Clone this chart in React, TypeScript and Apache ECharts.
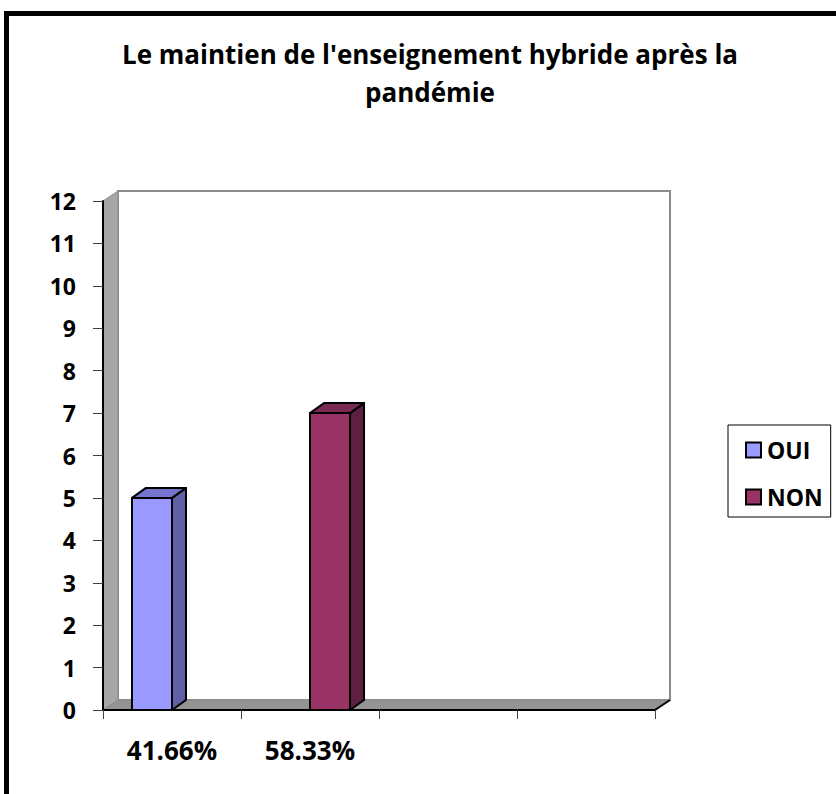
import React, { useEffect, useRef } from 'react';
import * as echarts from 'echarts';

const titleText = "Le maintien de l'enseignement hybride après la\npandémie";
const categories = ['41.66%', '58.33%', '', ''];
const seriesNames = ['OUI', 'NON'];
const ouiValues: (number | null)[] = [5, null, null, null];
const nonValues: (number | null)[] = [null, 7, null, null];
const yMin = 0;
const yMax = 12;
const yInterval = 1;

const FONT = '"Open Sans", "Noto Sans", sans-serif';
const DX = 14;
const DY = -10;

const colors = {
  oui: { front: '#9999FF', side: '#6060A8', top: '#7474CC' },
  non: { front: '#993366', side: '#5F1F40', top: '#7A2952' },
};

function toData(vals: (number | null)[]) {
  return vals
    .map((v, i) => (v == null ? null : [i, v]))
    .filter((d) => d != null) as number[][];
}

function makeBarRender(seriesIdx: number, c: { front: string; side: string; top: string }) {
  return (params: any, api: any) => {
    const v = api.value(1);
    if (v == null || isNaN(v)) return null;
    const cat = api.value(0);
    const base = api.coord([cat, 0]);
    const tp = api.coord([cat, v]);
    const band = api.size([1, 0])[0];
    const w = band * 0.29;
    const x0 = seriesIdx === 0 ? base[0] - w : base[0];
    const x1 = x0 + w;
    const y0 = tp[1];
    const y1 = base[1];
    const stroke = { stroke: '#000', lineWidth: 2, lineJoin: 'round' };
    return {
      type: 'group',
      children: [
        {
          type: 'polygon',
          shape: { points: [[x1, y1], [x1 + DX, y1 + DY], [x1 + DX, y0 + DY], [x1, y0]] },
          style: { fill: c.side, ...stroke },
        },
        {
          type: 'polygon',
          shape: { points: [[x0, y0], [x0 + DX, y0 + DY], [x1 + DX, y0 + DY], [x1, y0]] },
          style: { fill: c.top, ...stroke },
        },
        {
          type: 'rect',
          shape: { x: x0, y: y0, width: w, height: y1 - y0 },
          style: { fill: c.front, ...stroke },
        },
      ],
    };
  };
}

function wallRender(params: any, api: any) {
  const cs = params.coordSys;
  const gx = cs.x;
  const gy = cs.y;
  const gw = cs.width;
  const gh = cs.height;
  const wx = 15;
  const wy = -10;
  return {
    type: 'group',
    children: [
      {
        type: 'rect',
        shape: { x: gx + wx, y: gy + wy, width: gw, height: gh },
        style: { fill: '#FFFFFF', stroke: '#8C8C8C', lineWidth: 2 },
      },
      {
        type: 'polygon',
        shape: { points: [[gx, gy], [gx + wx, gy + wy], [gx + wx, gy + gh + wy], [gx, gy + gh]] },
        style: { fill: '#A6A6A6', stroke: '#8C8C8C', lineWidth: 1 },
      },
      {
        type: 'polygon',
        shape: {
          points: [[gx, gy + gh], [gx + wx, gy + gh + wy], [gx + gw + wx, gy + gh + wy], [gx + gw, gy + gh]],
        },
        style: { fill: '#939393', stroke: '#8C8C8C', lineWidth: 1 },
      },
      {
        type: 'line',
        shape: { x1: gx + gw, y1: gy + gh, x2: gx + gw + wx, y2: gy + gh + wy },
        style: { stroke: '#000', lineWidth: 2 },
      },
    ],
  };
}

export default function App() {
  const ref = useRef<HTMLDivElement>(null);
  useEffect(() => {
    if (!ref.current) return;
    const chart = echarts.init(ref.current, undefined, { renderer: 'svg' });
    chart.setOption({
      animation: false,
      backgroundColor: '#FFFFFF',
      title: {
        text: titleText,
        left: 425,
        top: 30,
        textAlign: 'center',
        textStyle: {
          fontFamily: FONT,
          fontWeight: 'bold',
          fontSize: 26,
          lineHeight: 38,
          color: '#000',
        },
      },
      legend: {
        orient: 'vertical',
        left: 728,
        top: 425,
        padding: [13, 8, 8, 17],
        borderColor: '#000',
        borderWidth: 1,
        backgroundColor: '#FFFFFF',
        itemGap: 23,
        itemWidth: 15,
        itemHeight: 15,
        icon: 'rect',
        data: [
          { name: seriesNames[0], itemStyle: { color: colors.oui.front, borderColor: '#000', borderWidth: 2 } },
          { name: seriesNames[1], itemStyle: { color: colors.non.front, borderColor: '#000', borderWidth: 2 } },
        ],
        textStyle: {
          fontFamily: FONT,
          fontWeight: 'bold',
          fontSize: 23,
          lineHeight: 24,
          color: '#000',
          padding: [0, 0, 0, 1],
        },
      },
      grid: { left: 103, right: 181, top: 201, bottom: 84, containLabel: false },
      xAxis: {
        type: 'category',
        data: categories,
        boundaryGap: true,
        z: 5,
        axisLine: { show: true, lineStyle: { color: '#000', width: 2 } },
        axisTick: { show: true, length: 9, alignWithLabel: false, lineStyle: { color: '#404040', width: 1 } },
        axisLabel: {
          interval: 0,
          margin: 27,
          fontFamily: FONT,
          fontWeight: 'bold',
          fontSize: 26,
          color: '#000',
        },
        splitLine: { show: false },
      },
      yAxis: {
        type: 'value',
        min: yMin,
        max: yMax,
        interval: yInterval,
        z: 5,
        axisLine: { show: true, lineStyle: { color: '#000', width: 2 } },
        axisTick: { show: true, length: 10, lineStyle: { color: '#404040', width: 1 } },
        axisLabel: {
          margin: 27,
          fontFamily: FONT,
          fontWeight: 'bold',
          fontSize: 23,
          color: '#000',
        },
        splitLine: { show: false },
      },
      series: [
        {
          type: 'custom',
          name: 'walls',
          z: 1,
          silent: true,
          data: [[0, 0]],
          encode: { x: 0, y: 1 },
          renderItem: wallRender,
        },
        {
          type: 'custom',
          name: seriesNames[0],
          z: 6,
          data: toData(ouiValues),
          encode: { x: 0, y: 1 },
          itemStyle: { color: colors.oui.front },
          renderItem: makeBarRender(0, colors.oui),
        },
        {
          type: 'custom',
          name: seriesNames[1],
          z: 6,
          data: toData(nonValues),
          encode: { x: 0, y: 1 },
          itemStyle: { color: colors.non.front },
          renderItem: makeBarRender(1, colors.non),
        },
      ],
      graphic: [
        {
          type: 'rect',
          z: 100,
          silent: true,
          shape: { x: 6.5, y: 13.5, width: 1000, height: 1000 },
          style: { fill: 'none', stroke: '#000', lineWidth: 5 },
        },
      ],
    });
    return () => chart.dispose();
  }, []);
  return (
    <div
      ref={ref}
      style={{ position: 'absolute', left: 0, top: 0, width: 836, height: 794 }}
    />
  );
}
